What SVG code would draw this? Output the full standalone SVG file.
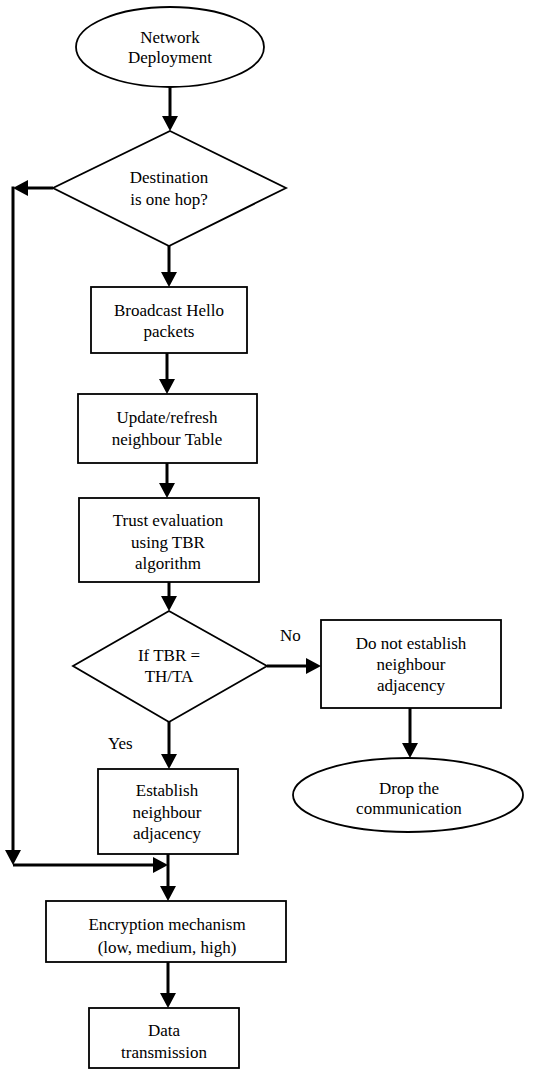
<svg xmlns="http://www.w3.org/2000/svg" width="554" height="1070" viewBox="0 0 554 1070">
<style>
.n{fill:#fff;stroke:#000;stroke-width:1.8}
text{font-family:'Liberation Serif','DejaVu Serif','Times New Roman',serif;font-size:17px;fill:#000}
.t{text-anchor:middle}
.c{fill:none;stroke:#000;stroke-width:3}
</style>
<defs>
<marker id="ah" viewBox="0 0 15 16" refX="0" refY="8" markerWidth="15" markerHeight="16" markerUnits="userSpaceOnUse" orient="auto">
<path d="M0,0 L15,8 L0,16 Z" fill="#000"/>
</marker>
</defs>
<rect width="554" height="1070" fill="#fff"/>
<g id="connectors">
<path class="c" d="M170,87 V116" marker-end="url(#ah)"/>
<path class="c" d="M169,246 V272" marker-end="url(#ah)"/>
<path class="c" d="M167,353 V379" marker-end="url(#ah)"/>
<path class="c" d="M167,463 V483" marker-end="url(#ah)"/>
<path class="c" d="M169,582 V596" marker-end="url(#ah)"/>
<path class="c" d="M267,666 H306" marker-end="url(#ah)"/>
<path class="c" d="M410,708 V743" marker-end="url(#ah)"/>
<path class="c" d="M169,722 V754" marker-end="url(#ah)"/>
<path class="c" d="M168,854 V886" marker-end="url(#ah)"/>
<path class="c" d="M168,962 V993" marker-end="url(#ah)"/>
<path class="c" d="M53,188 H28" marker-end="url(#ah)"/>
<path class="c" d="M13,186.5 V850" marker-end="url(#ah)"/>
<path class="c" d="M13,865 H153" marker-end="url(#ah)"/>
<text font-family="Liberation Serif, serif" x="280" y="641">No</text>
<text font-family="Liberation Serif, serif" x="108" y="749">Yes</text>
</g>
<g id="network-deployment">
<ellipse class="n" cx="170" cy="47" rx="94" ry="40"/>
<text class="t" x="170" y="43">Network</text>
<text class="t" x="170" y="63">Deployment</text>
</g>
<g id="destination-one-hop">
<polygon class="n" points="170,131 286,188 169,246 53,188"/>
<text class="t" x="169" y="183">Destination</text>
<text class="t" x="169" y="205">is one hop?</text>
</g>
<g id="broadcast-hello">
<rect class="n" x="91" y="287" width="156" height="66"/>
<text class="t" x="169" y="316">Broadcast Hello</text>
<text class="t" x="169" y="337">packets</text>
</g>
<g id="update-table">
<rect class="n" x="78" y="394" width="179" height="69"/>
<text class="t" x="167" y="423">Update/refresh</text>
<text class="t" x="167" y="445">neighbour Table</text>
</g>
<g id="trust-evaluation">
<rect class="n" x="79" y="498" width="180" height="84"/>
<text class="t" x="168" y="526">Trust evaluation</text>
<text class="t" x="168" y="548">using TBR</text>
<text class="t" x="168" y="569">algorithm</text>
</g>
<g id="if-tbr">
<polygon class="n" points="169,611 267,666 169,722 73,666"/>
<text class="t" x="169" y="661">If TBR =</text>
<text class="t" x="169" y="682">TH/TA</text>
</g>
<g id="do-not-establish">
<rect class="n" x="321" y="620" width="180" height="88"/>
<text class="t" x="411" y="649">Do not establish</text>
<text class="t" x="411" y="670">neighbour</text>
<text class="t" x="411" y="691">adjacency</text>
</g>
<g id="drop-communication">
<ellipse class="n" cx="408" cy="795" rx="115" ry="37"/>
<text class="t" x="409" y="794">Drop the</text>
<text class="t" x="409" y="814">communication</text>
</g>
<g id="establish-adjacency">
<rect class="n" x="98" y="769" width="140" height="85"/>
<text class="t" x="167" y="796">Establish</text>
<text class="t" x="167" y="818">neighbour</text>
<text class="t" x="167" y="839">adjacency</text>
</g>
<g id="encryption">
<rect class="n" x="46" y="901" width="240" height="61"/>
<text class="t" x="167" y="930">Encryption mechanism</text>
<text class="t" x="167" y="953">(low, medium, high)</text>
</g>
<g id="data-transmission">
<rect class="n" x="89" y="1008" width="150" height="60"/>
<text class="t" x="164" y="1036">Data</text>
<text class="t" x="164" y="1058">transmission</text>
</g>
</svg>
